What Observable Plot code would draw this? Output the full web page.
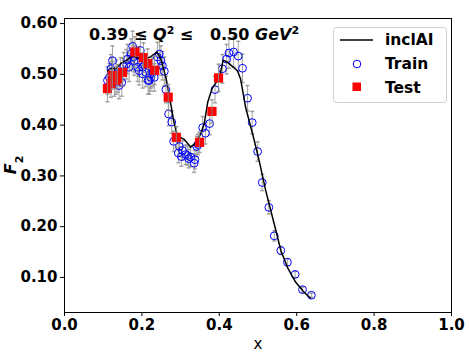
<!DOCTYPE html>
<html><head><meta charset="utf-8">
<script src="https://cdn.jsdelivr.net/npm/d3@7"></script>
<script src="https://cdn.jsdelivr.net/npm/@observablehq/plot@0.6"></script>
<style>body{margin:0;background:#fff} #chart{position:relative;width:469px;height:352px}</style>
</head><body><div id="chart"></div>
<script>
// inclAI model curve
const lineX = [0.111,0.124,0.133,0.146,0.159,0.168,0.176,0.189,0.200,0.210,0.223,0.239,0.249,0.262,0.275,0.283,0.292,0.309,0.326,0.335,0.348,0.361,0.370,0.382,0.400,0.410,0.421,0.447,0.455,0.468,0.486,0.503,0.520,0.533,0.546,0.559,0.576,0.597,0.619,0.636];
const lineY = [0.507,0.512,0.511,0.522,0.527,0.532,0.537,0.532,0.530,0.530,0.535,0.544,0.530,0.494,0.440,0.405,0.378,0.372,0.357,0.362,0.376,0.402,0.445,0.473,0.493,0.528,0.524,0.507,0.491,0.435,0.383,0.330,0.271,0.232,0.193,0.153,0.120,0.091,0.071,0.059];
// Train points
const trainX = [0.111,0.116,0.120,0.122,0.124,0.129,0.134,0.141,0.145,0.148,0.153,0.160,0.163,0.167,0.172,0.176,0.178,0.180,0.189,0.190,0.193,0.196,0.202,0.202,0.210,0.216,0.219,0.223,0.223,0.228,0.232,0.240,0.245,0.249,0.253,0.258,0.262,0.269,0.277,0.282,0.294,0.297,0.302,0.305,0.313,0.318,0.321,0.326,0.335,0.337,0.342,0.345,0.357,0.364,0.375,0.389,0.408,0.419,0.425,0.437,0.449,0.460,0.473,0.485,0.499,0.511,0.528,0.542,0.559,0.576,0.596,0.615,0.638];
const trainY = [0.488,0.494,0.511,0.505,0.527,0.484,0.500,0.478,0.505,0.484,0.515,0.520,0.530,0.514,0.540,0.555,0.534,0.527,0.514,0.525,0.507,0.547,0.501,0.514,0.504,0.488,0.488,0.494,0.501,0.504,0.494,0.534,0.540,0.527,0.517,0.506,0.470,0.422,0.406,0.368,0.345,0.358,0.338,0.350,0.342,0.340,0.334,0.337,0.325,0.332,0.358,0.362,0.395,0.384,0.403,0.470,0.511,0.530,0.542,0.544,0.536,0.512,0.453,0.405,0.348,0.287,0.238,0.182,0.153,0.130,0.106,0.076,0.065];
const trainErr = [0.027,0.027,0.028,0.028,0.029,0.027,0.028,0.026,0.028,0.027,0.028,0.029,0.029,0.028,0.030,0.030,0.029,0.029,0.028,0.029,0.028,0.030,0.028,0.028,0.028,0.027,0.027,0.027,0.028,0.028,0.027,0.029,0.030,0.029,0.028,0.028,0.026,0.023,0.022,0.020,0.019,0.020,0.019,0.019,0.019,0.019,0.018,0.019,0.018,0.018,0.020,0.020,0.022,0.021,0.022,0.026,0.028,0.029,0.030,0.030,0.029,0.028,0.025,0.022,0.019,0.016,0.013,0.010,0.008,0.007,0.006,0.005,0.004];
// Test points
const testX = [0.111,0.120,0.124,0.133,0.137,0.150,0.182,0.204,0.215,0.233,0.268,0.289,0.349,0.381,0.398];
const testY = [0.472,0.482,0.498,0.488,0.492,0.504,0.544,0.533,0.521,0.508,0.455,0.376,0.366,0.427,0.493];
const testErr = [0.026,0.027,0.027,0.027,0.027,0.028,0.030,0.029,0.029,0.028,0.025,0.021,0.020,0.023,0.027];
const xTicks = [0.0,0.2,0.4,0.6,0.8,1.0];
const yTicks = [0.10,0.20,0.30,0.40,0.50,0.60];

const line = lineX.map((x,i)=>({x, y: lineY[i]}));
const train = trainX.map((x,i)=>({x, y: trainY[i], e: trainErr[i]}));
const test = testX.map((x,i)=>({x, y: testY[i], e: testErr[i]}));

const cap = {draw(ctx){ ctx.moveTo(-2,0); ctx.lineTo(2,0); }};
const errColor = "#8c8c8c";
function errMarks(data){
  return [
    Plot.ruleX(data, {x:"x", y1:d=>d.y-d.e, y2:d=>d.y+d.e, stroke:errColor, strokeWidth:1, strokeOpacity:0.8}),
    Plot.dot(data, {x:"x", y:d=>d.y+d.e, symbol:cap, r:2, stroke:errColor, fill:"none", strokeOpacity:0.8}),
    Plot.dot(data, {x:"x", y:d=>d.y-d.e, symbol:cap, r:2, stroke:errColor, fill:"none", strokeOpacity:0.8})
  ];
}

const plot = Plot.plot({
  width: 469, height: 352,
  marginLeft: 64, marginRight: 18, marginTop: 18, marginBottom: 40,
  style: {fontFamily: "DejaVu Sans", fontSize: "15px", fontWeight: "bold", color: "black", background: "white"},
  x: {domain: [0, 1]},
  y: {domain: [0.031, 0.610]},
  marks: [
    Plot.frame({stroke: "black", strokeWidth: 1}),
    Plot.axisX({ticks: xTicks, tickFormat: d3.format(".1f"), tickSize: 4, tickPadding: 3, label: null, fontSize: 15}),
    Plot.axisY({ticks: yTicks, tickFormat: d3.format(".2f"), tickSize: 4, tickPadding: 3, label: null, fontSize: 15}),
    ...errMarks(train),
    Plot.dot(train, {x:"x", y:"y", r:3.9, stroke:"#0000ff", fill:"none", strokeWidth:1}),
    Plot.line(line, {x:"x", y:"y", stroke:"black", strokeWidth:1.5}),
    Plot.dot(test, {x:"x", y:"y", symbol:"square", r:5.2, fill:"#ff0000", stroke:"none"}),
    ...errMarks(test)
  ]
});
document.getElementById("chart").appendChild(plot);

const svg = d3.select(plot);
// x label
svg.append("text").attr("x", 258).attr("y", 349).attr("text-anchor","middle")
  .style("font-size","15px").style("font-weight","normal").text("x");
// y label
const yl = svg.append("text").attr("transform","translate(16,165) rotate(-90)").attr("text-anchor","middle")
  .style("font-size","16px");
yl.append("tspan").style("font-style","italic").text("F");
yl.append("tspan").attr("baseline-shift","sub").style("font-size","11px").text("2");
// title
const t = svg.append("text").attr("x", 89).attr("y", 40).attr("text-anchor","start")
  .style("font-size","16px").style("white-space","pre");
t.append("tspan").text("0.39 \u2264 ");
t.append("tspan").style("font-style","italic").text("Q");
t.append("tspan").attr("baseline-shift","super").style("font-size","11px").text("2");
t.append("tspan").attr("baseline-shift","0").text(" \u2264   0.50 ");
t.append("tspan").style("font-style","italic").text("GeV");
t.append("tspan").attr("baseline-shift","super").style("font-size","11px").text("2");
// legend
const lg = svg.append("g").attr("text-anchor","start");
lg.append("rect").attr("x",333.5).attr("y",27.5).attr("width",113).attr("height",75).attr("rx",3)
  .attr("fill","white").attr("fill-opacity",0.8).attr("stroke","#d0d0d0");
lg.append("line").attr("x1",340).attr("x2",373).attr("y1",40).attr("y2",40).attr("stroke","black").attr("stroke-width",1.5);
lg.append("circle").attr("cx",357).attr("cy",64).attr("r",3.8).attr("fill","none").attr("stroke","#0000ff");
lg.append("rect").attr("x",352.5).attr("y",82.5).attr("width",8.5).attr("height",8.5).attr("fill","#ff0000");
[["inclAI",45],["Train",69],["Test",93]].forEach(([s,y])=>{
  lg.append("text").attr("x",385).attr("y",y).style("font-size","15.5px").text(s);
});
</script>
</body></html>
